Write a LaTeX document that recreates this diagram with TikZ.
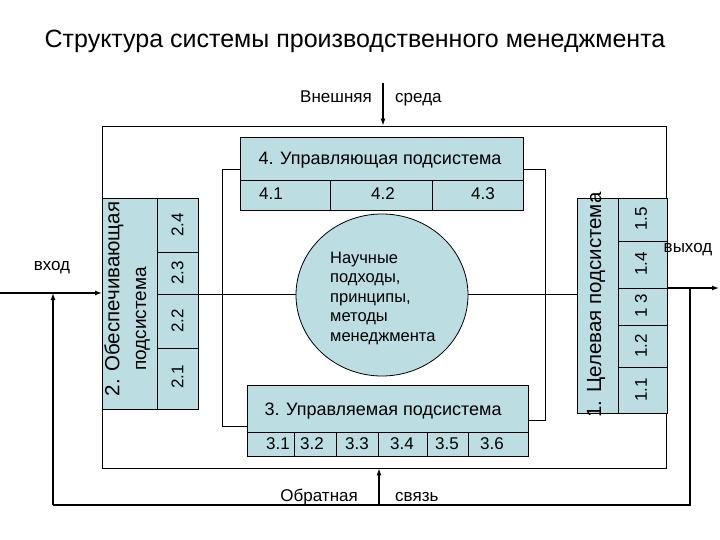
\documentclass[tikz,border=0pt]{standalone}
\usepackage{fontspec}
\setmainfont{Liberation Sans}
\usetikzlibrary{arrows.meta,shapes.geometric}
\definecolor{boxfill}{RGB}{188,222,226}
\tikzset{
  cell/.style={draw=black, fill=boxfill, line width=0.8pt, inner sep=0pt, anchor=north west},
  lbl/.style={inner sep=0pt, font=\fontsize{17}{20}\selectfont},
  hlbl/.style={inner sep=0pt, font=\fontsize{18}{21}\selectfont},
  rlbl/.style={inner sep=0pt, font=\fontsize{20.5}{23}\selectfont, rotate=90},
  thin/.style={line width=0.8pt},
  arr/.style={line width=1.3pt, -{Latex[length=7pt,width=5pt]}}
}
\begin{document}
\begin{tikzpicture}[x=1pt,y=-1pt]
\useasboundingbox (0,0) rectangle (720,540);
% title
\node[inner sep=0pt, anchor=base, font=\fontsize{25}{28}\selectfont] (title) at (355,48) {Структура системы производственного менеджмента};
% outer frame
\node[draw, thin, minimum width=564pt, minimum height=342pt, inner sep=0pt] (frame) at (384,297) {};
% external environment
\node[lbl, anchor=base west] (ext1) at (300,103) {Внешняя};
\node[lbl, anchor=base west] (ext2) at (395,103) {среда};
\coordinate (extTop) at (383,83);
\draw[arr] (extTop) -- (extTop |- frame.north);
% box 4
\node[cell, minimum width=283pt, minimum height=43pt] (b4h) at (240,137) {};
\node[hlbl] (b4t) at (380,160) {4. Управляющая подсистема};
\node[cell, minimum width=90pt, minimum height=30pt] (c41) at (240,180) {};
\node[cell, minimum width=102pt, minimum height=30pt] (c42) at (330,180) {};
\node[cell, minimum width=91pt, minimum height=30pt] (c43) at (432,180) {};
\node[lbl] (t41) at (271,194) {4.1};
\node[lbl] (t42) at (383,194) {4.2};
\node[lbl] (t43) at (483,194) {4.3};
% box 3
\node[cell, minimum width=281pt, minimum height=47pt] (b3h) at (247,385) {};
\node[hlbl] (b3t) at (383,411) {3. Управляемая подсистема};
\node[cell, minimum width=47pt, minimum height=24pt] (c31) at (247,432) {};
\node[cell, minimum width=42pt, minimum height=24pt] (c32) at (294,432) {};
\node[cell, minimum width=42pt, minimum height=24pt] (c33) at (336,432) {};
\node[cell, minimum width=49pt, minimum height=24pt] (c34) at (378,432) {};
\node[cell, minimum width=41pt, minimum height=24pt] (c35) at (427,432) {};
\node[cell, minimum width=60pt, minimum height=24pt] (c36) at (468,432) {};
\node[lbl] (t31) at (278,444) {3.1};
\node[lbl] (t32) at (312,444) {3.2};
\node[lbl] (t33) at (357,444) {3.3};
\node[lbl] (t34) at (402,444) {3.4};
\node[lbl] (t35) at (447,444) {3.5};
\node[lbl] (t36) at (492,444) {3.6};
% box 2
\node[cell, minimum width=55pt, minimum height=211pt] (b2t) at (102,198) {};
\node[rlbl] (b2l1) at (114,299) {2. Обеспечивающая};
\node[rlbl, font=\fontsize{19}{22}\selectfont] (b2l2) at (143,319) {подсистема};
\node[cell, minimum width=41pt, minimum height=54pt] (c24) at (157,198) {};
\node[cell, minimum width=41pt, minimum height=42pt] (c23) at (157,252) {};
\node[cell, minimum width=41pt, minimum height=54pt] (c22) at (157,294) {};
\node[cell, minimum width=41pt, minimum height=61pt] (c21) at (157,348) {};
\node[lbl, rotate=90] (t24) at (177.5,225) {2.4};
\node[lbl, rotate=90] (t23) at (177.5,273) {2.3};
\node[lbl, rotate=90] (t22) at (177.5,321) {2.2};
\node[lbl, rotate=90] (t21) at (177.5,377) {2.1};
% box 1
\node[cell, minimum width=41pt, minimum height=215pt] (b1t) at (577,198) {};
\node[rlbl] (b1l) at (596,305) {1. Целевая подсистема};
\node[cell, minimum width=49pt, minimum height=43pt] (c15) at (618,198) {};
\node[cell, minimum width=49pt, minimum height=47pt] (c14) at (618,241) {};
\node[cell, minimum width=49pt, minimum height=37pt] (c13) at (618,288) {};
\node[cell, minimum width=49pt, minimum height=42pt] (c12) at (618,325) {};
\node[cell, minimum width=49pt, minimum height=46pt] (c11) at (618,367) {};
\node[lbl, rotate=90] (t15) at (641,219) {1.5};
\node[lbl, rotate=90] (t14) at (641,264) {1.4};
\node[lbl, rotate=90] (t13) at (641,306) {1 3};
\node[lbl, rotate=90] (t12) at (641,346) {1.2};
\node[lbl, rotate=90] (t11) at (641,390) {1.1};
% circle
\node[draw, thin, fill=boxfill, ellipse, minimum width=172pt, minimum height=162pt, inner sep=0pt] (sci) at (382,295) {};
\node[inner sep=0pt, anchor=west, align=left, font=\fontsize{16.5}{19.5}\selectfont] (scit) at (330,298) {Научные\\подходы,\\принципы,\\методы\\менеджмента};
% loops between box 4 and box 3
\coordinate (loopTL) at (222,169);
\coordinate (loopBL) at (222,426);
\coordinate (loopTR) at (545,169);
\coordinate (loopBR) at (545,420);
\draw[thin] (b4h.west |- loopTL) -- (loopTL) -- (loopBL) -- (b3h.west |- loopBL);
\draw[thin] (b4h.east |- loopTR) -- (loopTR) -- (loopBR) -- (b3h.east |- loopBR);
% horizontal line through circle
\draw[thin] (c22.north east) -- (c22.north east -| sci.west);
\draw[thin] (c22.north east -| sci.east) -- (c22.north east -| b1t.west);
% input / output
\coordinate (inStart) at (0,293);
\draw[arr] (inStart) -- (inStart -| b2t.west);
\node[lbl] (vhod) at (52,268) {вход};
\coordinate (outEnd) at (719,288);
\draw[arr] (c13.north east) -- (outEnd);
\node[lbl] (vyhod) at (688,250) {выход};
% feedback
\coordinate (fbR) at (690,288);
\coordinate (fbBR) at (690,505);
\coordinate (fbBL) at (53,505);
\draw[line width=1.3pt] (fbR) -- (fbBR) -- (fbBL);
\draw[arr] (fbBL) -- (fbBL |- inStart);
\coordinate (fbMid) at (379,505);
\draw[arr] (fbMid) -- (fbMid |- frame.south);
\node[lbl, anchor=base east] (fb1) at (358,501) {Обратная};
\node[lbl, anchor=base west] (fb2) at (395,501) {связь};
\end{tikzpicture}
\end{document}
